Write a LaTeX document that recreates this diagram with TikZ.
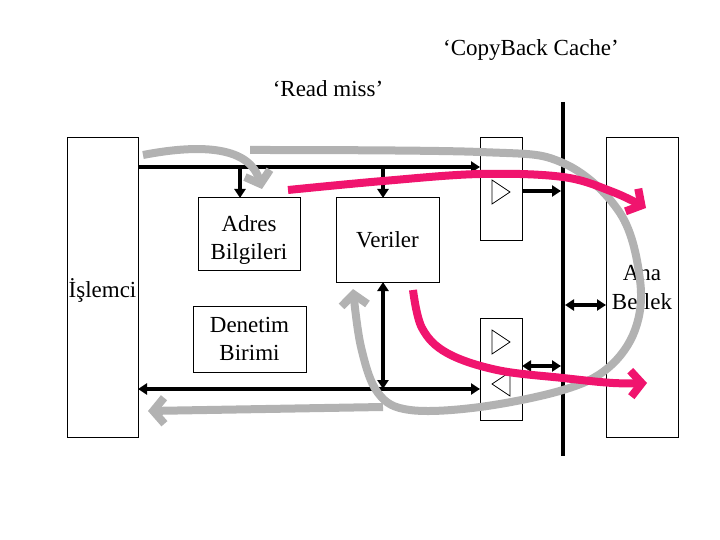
\documentclass[tikz,border=0pt]{standalone}
\usepackage{fontspec}
\setmainfont{Liberation Serif}
\usetikzlibrary{arrows.meta}
\definecolor{pinkarrow}{RGB}{240,20,110}
\definecolor{grayarrow}{RGB}{178,178,178}
\begin{document}
\begin{tikzpicture}[x=1pt,y=-1pt,
  font=\fontsize{23}{28.5}\selectfont,
  box/.style={draw,line width=1pt,inner sep=0pt,outer sep=0pt,fill=white},
  txt/.style={inner sep=0pt,outer sep=0pt,align=center},
  blk/.style={line width=3.5pt,-{Triangle[length=9pt,width=11pt]}},
  dblk/.style={line width=3.5pt,{Triangle[length=9pt,width=11pt]}-{Triangle[length=9pt,width=11pt]}},
  bus/.style={line width=4.5pt},
  tri/.style={draw,line width=0.8pt},
  gar/.style={draw=grayarrow,line width=8pt,-{Straight Barb[length=11pt,width=26pt]}},
  par/.style={draw=pinkarrow,line width=8pt,-{Straight Barb[length=11pt,width=26pt]}}]
\useasboundingbox (0,0) rectangle (720,540);

% boxes
\node[box,minimum width=71pt,minimum height=299pt] (cpu) at (102.5,287.5) {};
\node[txt] (cpuT) at (102.5,290) {İşlemci};
\node[box,minimum width=72pt,minimum height=299pt,align=center] (mem) at (642,287.5) {Ana\\Bellek};
\node[box,minimum width=102pt,minimum height=72pt] (adr) at (249,234) {};
\node[txt] (adrT) at (249,240) {Adres\\Bilgileri};
\node[box,minimum width=103pt,minimum height=84pt] (ver) at (387.5,240) {Veriler};
\node[box,minimum width=113pt,minimum height=66pt,align=center] (den) at (249.5,339) {Denetim\\Birimi};
\node[box,minimum width=42pt,minimum height=102pt] (bufA) at (501,189) {};
\node[box,minimum width=42pt,minimum height=102pt] (bufB) at (501,369) {};

% buffer triangles
\draw[tri] (492,180) -- (492,204) -- (510,192) -- cycle;
\draw[tri] (492,330) -- (492,354) -- (510,342) -- cycle;
\draw[tri] (510,372) -- (510,396) -- (492,384) -- cycle;

% titles
\node[txt,anchor=base] (t1) at (531,56) {‘CopyBack Cache’};
\node[txt,anchor=base] (t2) at (328,97) {‘Read miss’};

% system bus (vertical)
\coordinate (busT) at (563,102);
\coordinate (busB) at (563,456);
\draw[bus] (busT) -- (busB);

% black connectors
\coordinate (topL) at (cpu.east |- 0,167);
\draw[blk] (topL) -- (bufA.west |- 0,167);
\draw[blk] (240,167) -- (adr.north -| 240,0);
\draw[blk] (383,167) -- (ver.north -| 383,0);
\draw[blk] (bufA.east |- 0,191) -- (561,191);
\coordinate (botJ) at (383,389);
\draw[blk] (botJ) -- (cpu.east |- botJ);
\draw[blk] (botJ) -- (bufB.west |- botJ);
\draw[dblk] (ver.south -| botJ) -- (botJ);
\draw[dblk] (bufB.east |- 0,366) -- (561,366);
\draw[dblk] (565,305) -- (mem.west |- 0,305);

% gray flow arrows
\draw[gar] (143,155) .. controls (205,143) and (250,148) .. (262,189);
\draw[gar] plot[smooth,tension=0.6] coordinates {(250,150) (480,152) (563,163) (620,213) (640,280) (635,330) (608,368) (563,390) (480,407) (410,410) (378,393) (361,347) (353,289)};
\draw[gar] (383,407) -- (148,411);

% pink flow arrows
\draw[par] plot[smooth,tension=0.6] coordinates {(288,190) (383,181) (480,174) (563,177) (613,192) (646,208)};
\draw[par] plot[smooth,tension=0.6] coordinates {(413,290) (422,328) (447,353) (497,370) (563,378) (613,383) (647,383)};
\end{tikzpicture}
\end{document}
